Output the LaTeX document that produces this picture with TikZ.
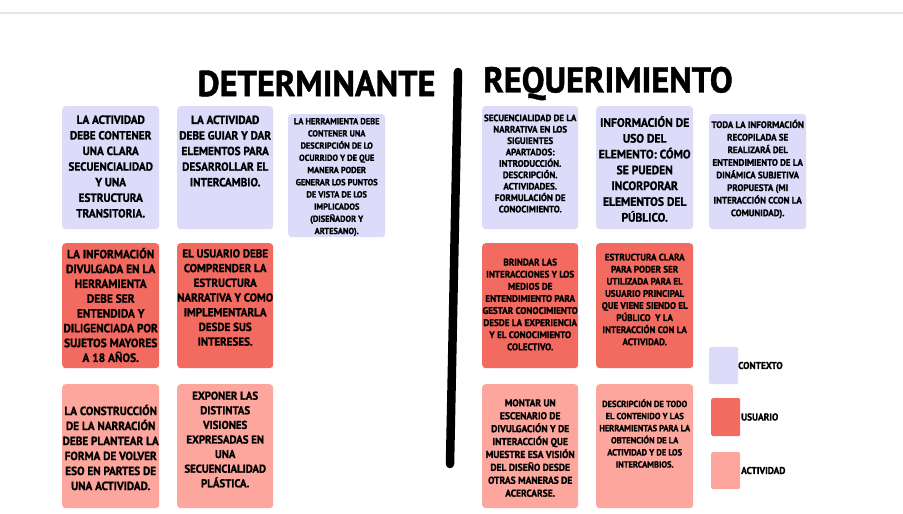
\documentclass[tikz,border=0pt]{standalone}
\usepackage{fontspec}
\setmainfont{PT Sans}
\newfontfamily\hand{PT Sans Bold}[FakeStretch=0.95, FakeBold=1.2]
\definecolor{ctx}{HTML}{DDDBFA}
\definecolor{usr}{HTML}{F36A61}
\definecolor{act}{HTML}{FDA69D}
\definecolor{rule}{HTML}{E6E4EA}
\tikzset{
  card/.style={rounded corners=3.5pt, inner sep=0pt, anchor=north west, minimum width=97pt},
  txt/.style={align=center, inner sep=0pt},
  title/.style={inner sep=0pt, font=\hand\fontsize{36}{36}\selectfont},
  leg/.style={inner sep=0pt, anchor=west, font=\hand\fontsize{9.9}{10}\selectfont},
  swatch/.style={rounded corners=1.5pt, inner sep=0pt, anchor=north west, minimum width=29pt}
}
\newcommand\fs[2]{\hand\fontsize{#1}{#2}\selectfont}
\begin{document}
\begin{tikzpicture}[x=1pt,y=-1pt]
\useasboundingbox[fill=white] (0,0) rectangle (903,514);
\coordinate (r1) at (0,13); \coordinate (r2) at (903,13);
\draw[rule, line width=1.5pt] (r1) -- (r2);
\node[title] (t1) at (316.5,83.5) {DETERMINANTE};
\node[title] (t2) at (608,83.5) {REQUERIMIENTO};
\coordinate (v1) at (458,72); \coordinate (v2) at (450,464);
\draw[line width=8.5pt, line cap=round] (v1) -- (v2);

% row 1
\node[card, fill=ctx, minimum height=123pt] (b1) at (62,106) {};
\node[card, fill=ctx, minimum height=123pt, minimum width=96pt] (b2) at (177,106) {};
\node[card, fill=ctx, minimum height=123pt] (b3) at (288,114) {};
\node[card, fill=ctx, minimum height=123pt, minimum width=96pt] (b4) at (482,106) {};
\node[card, fill=ctx, minimum height=123pt] (b5) at (596,106) {};
\node[card, fill=ctx, minimum height=115pt] (b6) at (709,114) {};
% row 2
\node[card, fill=usr, minimum height=125pt] (b7) at (62,243) {};
\node[card, fill=usr, minimum height=125pt, minimum width=96pt] (b8) at (177,243) {};
\node[card, fill=usr, minimum height=125pt, minimum width=96pt] (b10) at (482,243) {};
\node[card, fill=usr, minimum height=125pt] (b11) at (596,243) {};
% row 3
\node[card, fill=act, minimum height=124pt] (b13) at (62,384) {};
\node[card, fill=act, minimum height=124pt, minimum width=96pt] (b14) at (177,384) {};
\node[card, fill=act, minimum height=124pt, minimum width=96pt] (b16) at (482,384) {};
\node[card, fill=act, minimum height=124pt] (b17) at (596,384) {};

% texts
\node[txt, font=\fs{11.8}{15.6}] (x1) at (b1.center |- 0,166.5) {LA ACTIVIDAD\\DEBE CONTENER\\UNA CLARA\\SECUENCIALIDAD\\Y UNA\\ESTRUCTURA\\TRANSITORIA.};
\node[txt, font=\fs{11.8}{15.6}] (x2) at (b2.center |- 0,151) {LA ACTIVIDAD\\DEBE GUIAR Y DAR\\ELEMENTOS PARA\\DESARROLLAR EL\\INTERCAMBIO.};
\node[txt, font=\fs{8.8}{12.2}] (x3) at (b3.center |- 0,177) {LA HERRAMIENTA DEBE\\CONTENER UNA\\DESCRIPCIÓN DE LO\\OCURRIDO Y DE QUE\\MANERA PODER\\GENERAR LOS PUNTOS\\DE VISTA DE LOS\\IMPLICADOS\\(DISEÑADOR Y\\ARTESANO).};
\node[txt, font=\fs{9.4}{11.4}] (x4) at (b4.center |- 0,163.5) {SECUENCIALIDAD DE LA\\NARRATIVA EN LOS\\SIGUIENTES\\APARTADOS:\\INTRODUCCIÓN.\\DESCRIPCIÓN.\\ACTIVIDADES.\\FORMULACIÓN DE\\CONOCIMIENTO.};
\node[txt, font=\fs{12.2}{15.8}] (x5) at (b5.center |- 0,169) {INFORMACIÓN DE\\USO DEL\\ELEMENTO: CÓMO\\SE PUEDEN\\INCORPORAR\\ELEMENTOS DEL\\PÚBLICO.};
\node[txt, font=\fs{9.4}{12.6}] (x6) at (b6.center |- 0,169) {TODA LA INFORMACIÓN\\RECOPILADA SE\\REALIZARÁ DEL\\ENTENDIMIENTO DE LA\\DINÁMICA SUBJETIVA\\PROPUESTA (MI\\INTERACCIÓN CCON LA\\COMUNIDAD).};

\node[txt, font=\fs{12}{14.8}] (x7) at (b7.center |- 0,305) {LA INFORMACIÓN\\DIVULGADA EN LA\\HERRAMIENTA\\DEBE SER\\ENTENDIDA Y\\DILIGENCIADA POR\\SUJETOS MAYORES\\A 18 AÑOS.};
\node[txt, font=\fs{11.6}{14.7}] (x8) at (b8.center |- 0,297.5) {EL USUARIO DEBE\\COMPRENDER LA\\ESTRUCTURA\\NARRATIVA Y COMO\\IMPLEMENTARLA\\DESDE SUS\\INTERESES.};
\node[txt, font=\fs{9.6}{12.1}] (x10) at (b10.center |- 0,304.5) {BRINDAR LAS\\INTERACCIONES Y LOS\\MEDIOS DE\\ENTENDIMIENTO PARA\\GESTAR CONOCIMIENTO\\DESDE LA EXPERIENCIA\\Y EL CONOCIMIENTO\\COLECTIVO.};
\node[txt, font=\fs{9.5}{12.1}] (x11) at (b11.center |- 0,299.5) {ESTRUCTURA CLARA\\PARA PODER SER\\UTILIZADA PARA EL\\USUARIO PRINCIPAL\\QUE VIENE SIENDO EL\\PÚBLICO\ \ Y LA\\INTERACCIÓN CON LA\\ACTIVIDAD.};

\node[txt, font=\fs{11.8}{15}] (x13) at (b13.center |- 0,447.5) {LA CONSTRUCCIÓN\\DE LA NARRACIÓN\\DEBE PLANTEAR LA\\FORMA DE VOLVER\\ESO EN PARTES DE\\UNA ACTIVIDAD.};
\node[txt, font=\fs{11.4}{14.6}] (x14) at (b14.center |- 0,439.5) {EXPONER LAS\\DISTINTAS\\VISIONES\\EXPRESADAS EN\\UNA\\SECUENCIALIDAD\\PLÁSTICA.};
\node[txt, font=\fs{10}{12.9}] (x16) at (b16.center |- 0,448) {MONTAR UN\\ESCENARIO DE\\DIVULGACIÓN Y DE\\INTERACCIÓN QUE\\MUESTRE ESA VISIÓN\\DEL DISEÑO DESDE\\OTRAS MANERAS DE\\ACERCARSE.};
\node[txt, font=\fs{8.9}{12.1}] (x17) at (b17.center |- 0,433.5) {DESCRIPCIÓN DE TODO\\EL CONTENIDO Y LAS\\HERRAMIENTAS PARA LA\\OBTENCIÓN DE LA\\ACTIVIDAD Y DE LOS\\INTERCAMBIOS.};

% legend
\node[swatch, fill=ctx, minimum height=37pt] (l1) at (709,347) {};
\node[swatch, fill=usr, minimum height=38pt] (l2) at (711,398) {};
\node[swatch, fill=act, minimum height=37pt] (l3) at (711,452) {};
\node[leg] (k1) at (738,365.5) {CONTEXTO};
\node[leg] (k2) at (741,417) {USUARIO};
\node[leg] (k3) at (741,470.5) {ACTIVIDAD};
\end{tikzpicture}
\end{document}
